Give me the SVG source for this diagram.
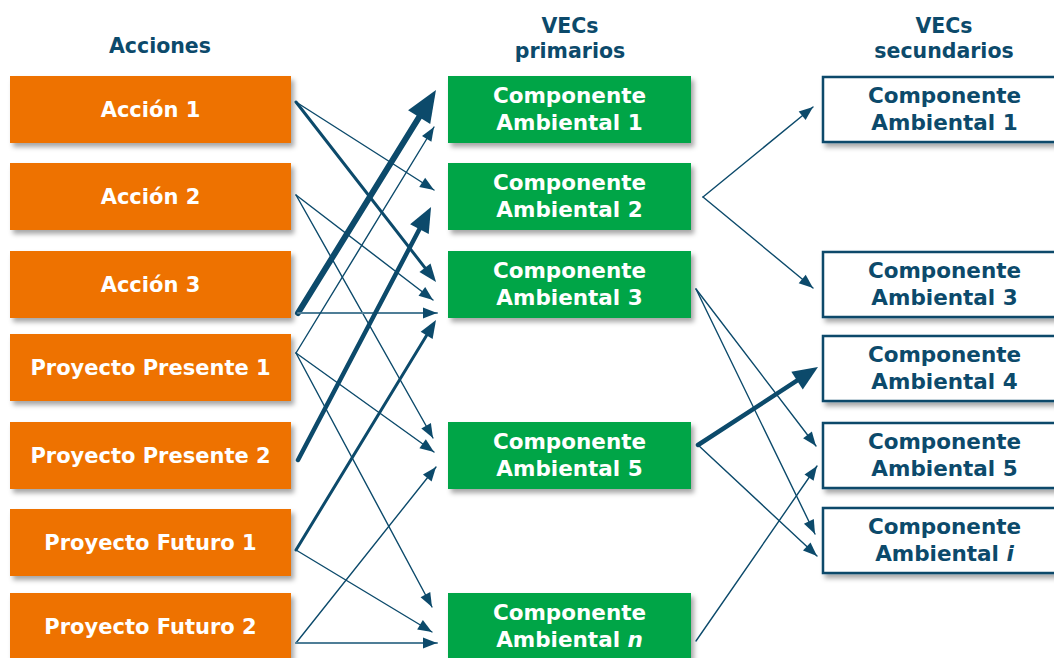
<svg xmlns="http://www.w3.org/2000/svg" width="1054" height="658" viewBox="0 0 1054 658">
  <style>
    .hdr { font-family: "DejaVu Sans", "Liberation Sans", sans-serif; font-weight: bold; font-size: 20.5px; fill: #0c4a6b; text-anchor: middle; }
    .lbl { font-family: "DejaVu Sans", "Liberation Sans", sans-serif; font-weight: bold; font-size: 21px; fill: #ffffff; text-anchor: middle; }
    .cmp { font-size: 21.5px; }
    .lbl2 { font-family: "DejaVu Sans", "Liberation Sans", sans-serif; font-weight: bold; font-size: 21.5px; fill: #0c4a6b; text-anchor: middle; }
    .act { fill: #ee7203; }
    .pri { fill: #00a546; }
    .sec { fill: #ffffff; stroke: #0c4a6b; stroke-width: 2.5; }
    .ln { fill: none; stroke: #0c4a6b; stroke-linecap: round; }
    .thin { stroke-width: 1.4; marker-end: url(#aThin); }
    .soft { stroke: #4f7e97; stroke-width: 2; marker-end: url(#aThin); }
    .med { stroke-width: 3; marker-end: url(#aMed); }
    .thick { stroke-width: 4.5; marker-end: url(#aThick); }
    .xthick { stroke-width: 6; marker-end: url(#aXThick); }
  </style>
  <defs>
    <filter id="shadow" x="-10%" y="-20%" width="130%" height="150%">
      <feDropShadow dx="3" dy="4" stdDeviation="2.5" flood-color="#000000" flood-opacity="0.35"/>
    </filter>
    <marker id="aThin" markerUnits="userSpaceOnUse" markerWidth="14" markerHeight="11" refX="14" refY="5.5" orient="auto" overflow="visible">
      <path d="M0,0 L14,5.5 L0,11 Z" fill="#0c4a6b"/>
    </marker>
    <marker id="aMed" markerUnits="userSpaceOnUse" markerWidth="18" markerHeight="14" refX="8" refY="7" orient="auto" overflow="visible">
      <path d="M0,0 L18,7 L0,14 Z" fill="#0c4a6b"/>
    </marker>
    <marker id="aThick" markerUnits="userSpaceOnUse" markerWidth="25" markerHeight="21" refX="9" refY="10.5" orient="auto" overflow="visible">
      <path d="M0,0 L25,10.5 L0,21 Z" fill="#0c4a6b"/>
    </marker>
    <marker id="aXThick" markerUnits="userSpaceOnUse" markerWidth="32" markerHeight="26" refX="10" refY="13" orient="auto" overflow="visible">
      <path d="M0,0 L32,13 L0,26 Z" fill="#0c4a6b"/>
    </marker>
  </defs>

  <rect width="1054" height="658" fill="#ffffff"/>

  <!-- column headings -->
  <g id="headers">
    <text class="hdr" x="160" y="53">Acciones</text>
    <text class="hdr" x="570" y="33">VECs</text>
    <text class="hdr" x="570" y="58">primarios</text>
    <text class="hdr" x="944" y="33">VECs</text>
    <text class="hdr" x="944" y="58">secundarios</text>
  </g>

  <!-- actions -->
  <g id="accion-1"><rect class="act" x="10" y="76" width="281" height="67" filter="url(#shadow)"/><text class="lbl" x="150.5" y="117">Acción 1</text></g>
  <g id="accion-2"><rect class="act" x="10" y="163" width="281" height="67" filter="url(#shadow)"/><text class="lbl" x="150.5" y="204">Acción 2</text></g>
  <g id="accion-3"><rect class="act" x="10" y="251" width="281" height="67" filter="url(#shadow)"/><text class="lbl" x="150.5" y="292">Acción 3</text></g>
  <g id="proyecto-presente-1"><rect class="act" x="10" y="334" width="281" height="67" filter="url(#shadow)"/><text class="lbl" x="150.5" y="375">Proyecto Presente 1</text></g>
  <g id="proyecto-presente-2"><rect class="act" x="10" y="422" width="281" height="67" filter="url(#shadow)"/><text class="lbl" x="150.5" y="463">Proyecto Presente 2</text></g>
  <g id="proyecto-futuro-1"><rect class="act" x="10" y="509" width="281" height="67" filter="url(#shadow)"/><text class="lbl" x="150.5" y="550">Proyecto Futuro 1</text></g>
  <g id="proyecto-futuro-2"><rect class="act" x="10" y="593" width="281" height="67" filter="url(#shadow)"/><text class="lbl" x="150.5" y="634">Proyecto Futuro 2</text></g>

  <!-- primary VECs -->
  <g id="primario-1"><rect class="pri" x="448" y="76" width="243" height="67" filter="url(#shadow)"/><text class="lbl cmp" x="569.5" y="103">Componente</text><text class="lbl cmp" x="569.5" y="130">Ambiental 1</text></g>
  <g id="primario-2"><rect class="pri" x="448" y="163" width="243" height="67" filter="url(#shadow)"/><text class="lbl cmp" x="569.5" y="190">Componente</text><text class="lbl cmp" x="569.5" y="217">Ambiental 2</text></g>
  <g id="primario-3"><rect class="pri" x="448" y="251" width="243" height="67" filter="url(#shadow)"/><text class="lbl cmp" x="569.5" y="278">Componente</text><text class="lbl cmp" x="569.5" y="305">Ambiental 3</text></g>
  <g id="primario-5"><rect class="pri" x="448" y="422" width="243" height="67" filter="url(#shadow)"/><text class="lbl cmp" x="569.5" y="449">Componente</text><text class="lbl cmp" x="569.5" y="476">Ambiental 5</text></g>
  <g id="primario-n"><rect class="pri" x="448" y="593" width="243" height="67" filter="url(#shadow)"/><text class="lbl cmp" x="569.5" y="620">Componente</text><text class="lbl cmp" x="569.5" y="647">Ambiental <tspan font-style="italic">n</tspan></text></g>

  <!-- secondary VECs -->
  <g id="secundario-1"><rect class="sec" x="823" y="77" width="243" height="65" filter="url(#shadow)"/><text class="lbl2" x="944.5" y="103">Componente</text><text class="lbl2" x="944.5" y="130">Ambiental 1</text></g>
  <g id="secundario-3"><rect class="sec" x="823" y="252" width="243" height="65" filter="url(#shadow)"/><text class="lbl2" x="944.5" y="278">Componente</text><text class="lbl2" x="944.5" y="305">Ambiental 3</text></g>
  <g id="secundario-4"><rect class="sec" x="823" y="336" width="243" height="65" filter="url(#shadow)"/><text class="lbl2" x="944.5" y="362">Componente</text><text class="lbl2" x="944.5" y="389">Ambiental 4</text></g>
  <g id="secundario-5"><rect class="sec" x="823" y="423" width="243" height="65" filter="url(#shadow)"/><text class="lbl2" x="944.5" y="449">Componente</text><text class="lbl2" x="944.5" y="476">Ambiental 5</text></g>
  <g id="secundario-i"><rect class="sec" x="823" y="508" width="243" height="65" filter="url(#shadow)"/><text class="lbl2" x="944.5" y="534">Componente</text><text class="lbl2" x="944.5" y="561">Ambiental <tspan font-style="italic">i</tspan></text></g>

  <!-- connectors -->
  <g id="connectors">
    <!-- actions to primary VECs -->
    <line class="ln thin" x1="296" y1="102" x2="434" y2="190"/>
    <line class="ln med" x1="296" y1="102" x2="429.9" y2="274.1"/>
    <line class="ln thin" x1="296" y1="195" x2="433" y2="300"/>
    <line class="ln thin" x1="296" y1="195" x2="433" y2="438"/>
    <line class="ln xthick" x1="298" y1="313" x2="424.4" y2="108.7"/>
    <line class="ln soft" x1="298" y1="313" x2="437" y2="313"/>
    <line class="ln thin" x1="296" y1="353" x2="434" y2="127"/>
    <line class="ln thin" x1="296" y1="353" x2="434" y2="452"/>
    <line class="ln thin" x1="296" y1="353" x2="432" y2="607"/>
    <line class="ln thick" x1="298" y1="460" x2="423.6" y2="221.2"/>
    <line class="ln med" x1="296" y1="550" x2="430.8" y2="328.5"/>
    <line class="ln thin" x1="296" y1="550" x2="432" y2="632"/>
    <line class="ln thin" x1="296" y1="643" x2="436" y2="467"/>
    <line class="ln soft" x1="296" y1="643" x2="437" y2="643"/>
    <!-- primary to secondary VECs -->
    <line class="ln thin" x1="703" y1="197" x2="813" y2="107"/>
    <line class="ln thin" x1="703" y1="197" x2="813" y2="288"/>
    <line class="ln thin" x1="696" y1="289" x2="816" y2="446"/>
    <line class="ln thin" x1="696" y1="289" x2="815" y2="534"/>
    <line class="ln thick" x1="698" y1="445" x2="804.6" y2="375.7"/>
    <line class="ln thin" x1="698" y1="445" x2="817" y2="556"/>
    <line class="ln thin" x1="696" y1="641" x2="817" y2="466"/>
  </g>
</svg>
